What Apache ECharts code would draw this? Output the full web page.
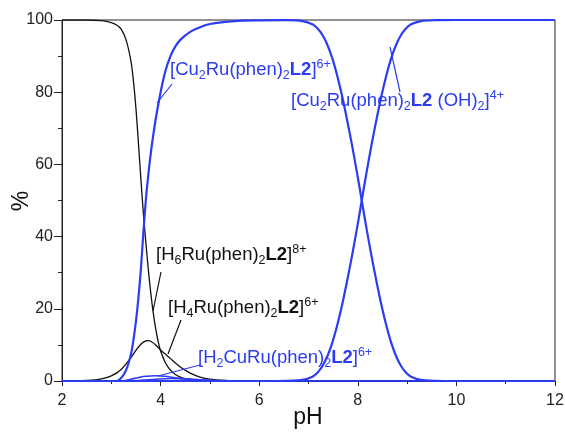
<!DOCTYPE html>
<html>
<head>
<meta charset="utf-8">
<script src="https://cdn.jsdelivr.net/npm/echarts@6/dist/echarts.min.js"></script>
<style>
  html, body { margin: 0; padding: 0; background: #fff; }
  #chart { width: 565px; height: 434px; }
</style>
</head>
<body>
<div id="chart"></div>
<script>
// Species distribution vs pH: [pH, %] pairs for each species.
const h6Ru = [
  [2.0, 100], [2.5, 100], [2.8, 99.8], [3.0, 99.3], [3.1, 98.7], [3.2, 97.5],
  [3.3, 94.5], [3.4, 88.5], [3.45, 83], [3.5, 75.5], [3.55, 66], [3.6, 56],
  [3.65, 46.5], [3.7, 38.5], [3.75, 31], [3.8, 24.5], [3.85, 19], [3.9, 14.5],
  [3.95, 11], [4.0, 8.3], [4.1, 5.0], [4.2, 3.0], [4.3, 1.8], [4.4, 1.1],
  [4.5, 0.65], [4.7, 0.25], [5.0, 0.05], [5.5, 0], [12, 0]
];
const h4Ru = [
  [2.0, 0], [2.4, 0.1], [2.6, 0.25], [2.8, 0.6], [3.0, 1.4], [3.2, 3.2],
  [3.4, 6.5], [3.5, 8.5], [3.6, 10.2], [3.7, 11.1], [3.75, 11.2], [3.8, 11.0],
  [3.9, 10.0], [4.0, 8.6], [4.1, 7.4], [4.2, 6.2], [4.3, 5.0], [4.4, 3.9],
  [4.5, 3.0], [4.6, 2.2], [4.8, 1.1], [5.0, 0.5], [5.3, 0.15], [5.6, 0], [12, 0]
];
const h2CuRu = [
  [2.0, 0], [3.2, 0], [3.3, 0.2], [3.4, 0.5], [3.5, 0.8], [3.6, 1.1],
  [3.7, 1.3], [3.8, 1.4], [3.9, 1.45], [4.0, 1.4], [4.1, 1.3], [4.2, 1.1],
  [4.4, 0.7], [4.6, 0.4], [4.8, 0.2], [5.0, 0.1], [5.3, 0], [12, 0]
];
const minorCu = [
  [2.0, 0], [3.3, 0], [3.6, 0.2], [3.9, 0.5], [4.2, 0.7], [4.5, 0.6],
  [4.8, 0.35], [5.2, 0.1], [5.6, 0], [12, 0]
];
const cu2Ru = [
  [2.0, 0], [3.1, 0], [3.2, 0.8], [3.3, 3], [3.4, 7.5], [3.45, 11.5],
  [3.5, 16.5], [3.55, 23], [3.6, 31], [3.65, 41], [3.7, 50], [3.75, 57],
  [3.8, 63], [3.85, 68], [3.9, 72.5], [4.0, 80], [4.1, 86], [4.2, 90],
  [4.3, 92.7], [4.4, 94.5], [4.6, 96.7], [4.8, 98], [5.0, 98.9], [5.5, 99.7],
  [6.0, 99.9], [6.58, 99.95], [6.88, 99.7], [7.08, 98.8], [7.18, 97.7],
  [7.28, 95.9], [7.38, 93.2], [7.48, 89.5], [7.58, 84.7], [7.68, 79],
  [7.78, 72.5], [7.88, 65.5], [7.98, 58], [8.08, 50], [8.18, 42], [8.28, 34.5],
  [8.38, 27.5], [8.48, 21], [8.58, 15.3], [8.68, 10.5], [8.78, 6.8],
  [8.88, 4.1], [8.98, 2.3], [9.08, 1.2], [9.28, 0.3], [9.58, 0.05], [10.0, 0], [12, 0]
];
const cu2RuOH = [
  [2.0, 0], [6.0, 0], [6.58, 0.05], [6.88, 0.3], [7.08, 1.2], [7.18, 2.3],
  [7.28, 4.1], [7.38, 6.8], [7.48, 10.5], [7.58, 15.3], [7.68, 21],
  [7.78, 27.5], [7.88, 34.5], [7.98, 42], [8.08, 50], [8.18, 58], [8.28, 65.5],
  [8.38, 72.5], [8.48, 79], [8.58, 84.7], [8.68, 89.5], [8.78, 93.2],
  [8.88, 95.9], [8.98, 97.7], [9.08, 98.8], [9.28, 99.7], [9.58, 99.95],
  [10.0, 100], [12, 100]
];

const BLUE = '#2b3cf4';
const BLACK = '#111111';
const FONT = '"Liberation Sans", Arial, sans-serif';

function curve(data, color, width) {
  return {
    type: 'line', data, smooth: 0.3, symbol: 'none', silent: true,
    lineStyle: { color, width }, z: color === BLUE ? 3 : 2
  };
}

// Rich-text styles for chemical formulas (subscripts, bold ligand, charge superscripts)
function richFor(color) {
  const base = { fontFamily: FONT, fontSize: 18.5, color, lineHeight: 24 };
  return {
    n: Object.assign({}, base),
    sub: Object.assign({}, base, { fontSize: 12.5, verticalAlign: 'bottom' }),
    sup: Object.assign({}, base, { fontSize: 12.5, verticalAlign: 'top' }),
    b: Object.assign({}, base, { fontWeight: 'bold' })
  };
}

function label(x, y, text, color) {
  return {
    type: 'text', x, y, z: 10, silent: true,
    style: {
      text, fill: color, font: '18.5px ' + FONT, verticalAlign: 'middle',
      rich: richFor(color)
    }
  };
}
function leader(x1, y1, x2, y2, color) {
  return {
    type: 'line', z: 10, silent: true,
    shape: { x1, y1, x2, y2 },
    style: { stroke: color, lineWidth: 1.2 }
  };
}

const chart = echarts.init(document.getElementById('chart'), null, { renderer: 'canvas' });
chart.setOption({
  animation: false,
  backgroundColor: '#fff',
  grid: {
    left: 62, right: 10, top: 20, bottom: 53,
    containLabel: false, outerBoundsMode: 'none',
    show: true, borderColor: '#222', borderWidth: 1, backgroundColor: 'transparent'
  },
  xAxis: {
    type: 'value', min: 2, max: 12, interval: 2,
    axisLine: { lineStyle: { color: '#222', width: 1 } },
    axisTick: { show: true, length: 5, lineStyle: { color: '#222' } },
    minorTick: { show: true, splitNumber: 2, length: 3, lineStyle: { color: '#222' } },
    splitLine: { show: false },
    axisLabel: { fontFamily: FONT, fontSize: 16, color: '#222', margin: 12 }
  },
  yAxis: {
    type: 'value', min: 0, max: 100, interval: 20,
    axisLine: { show: true, lineStyle: { color: '#222', width: 1 } },
    axisTick: { show: true, length: 8, lineStyle: { color: '#222' } },
    minorTick: { show: true, splitNumber: 2, length: 4, lineStyle: { color: '#222' } },
    splitLine: { show: false },
    axisLabel: { fontFamily: FONT, fontSize: 16, color: '#222', margin: 9 }
  },
  series: [
    curve(h6Ru, BLACK, 1.3),
    curve(h4Ru, BLACK, 1.3),
    curve(minorCu, BLUE, 1.6),
    curve(h2CuRu, BLUE, 1.6),
    curve(cu2Ru, BLUE, 2.2),
    curve(cu2RuOH, BLUE, 2.2)
  ],
  graphic: [
    // axis titles
    {
      type: 'text', x: 308, y: 418, silent: true,
      style: { text: 'pH', font: '23px ' + FONT, fill: '#111', align: 'center', verticalAlign: 'middle' }
    },
    {
      type: 'text', x: 22, y: 201, rotation: Math.PI / 2, silent: true,
      style: { text: '%', font: '23px ' + FONT, fill: '#111', align: 'center', verticalAlign: 'middle' }
    },
    // species labels with leader lines
    label(170, 70, '{n|[Cu}{sub|2}{n|Ru(phen)}{sub|2}{b|L2}{n|]}{sup|6+}', BLUE),
    leader(172, 84, 157, 103, BLUE),
    label(291, 101, '{n|[Cu}{sub|2}{n|Ru(phen)}{sub|2}{b|L2}{n| (OH)}{sub|2}{n|]}{sup|4+}', BLUE),
    leader(390, 47, 400, 92, BLUE),
    label(156, 255, '{n|[H}{sub|6}{n|Ru(phen)}{sub|2}{b|L2}{n|]}{sup|8+}', BLACK),
    leader(161, 272, 153, 311, BLACK),
    label(168, 308, '{n|[H}{sub|4}{n|Ru(phen)}{sub|2}{b|L2}{n|]}{sup|6+}', BLACK),
    leader(181, 320, 168, 354, BLACK),
    label(198, 358, '{n|[H}{sub|2}{n|CuRu(phen)}{sub|2}{b|L2}{n|]}{sup|6+}', BLUE),
    leader(200, 365, 158, 376, BLUE)
  ]
});
</script>
</body>
</html>
